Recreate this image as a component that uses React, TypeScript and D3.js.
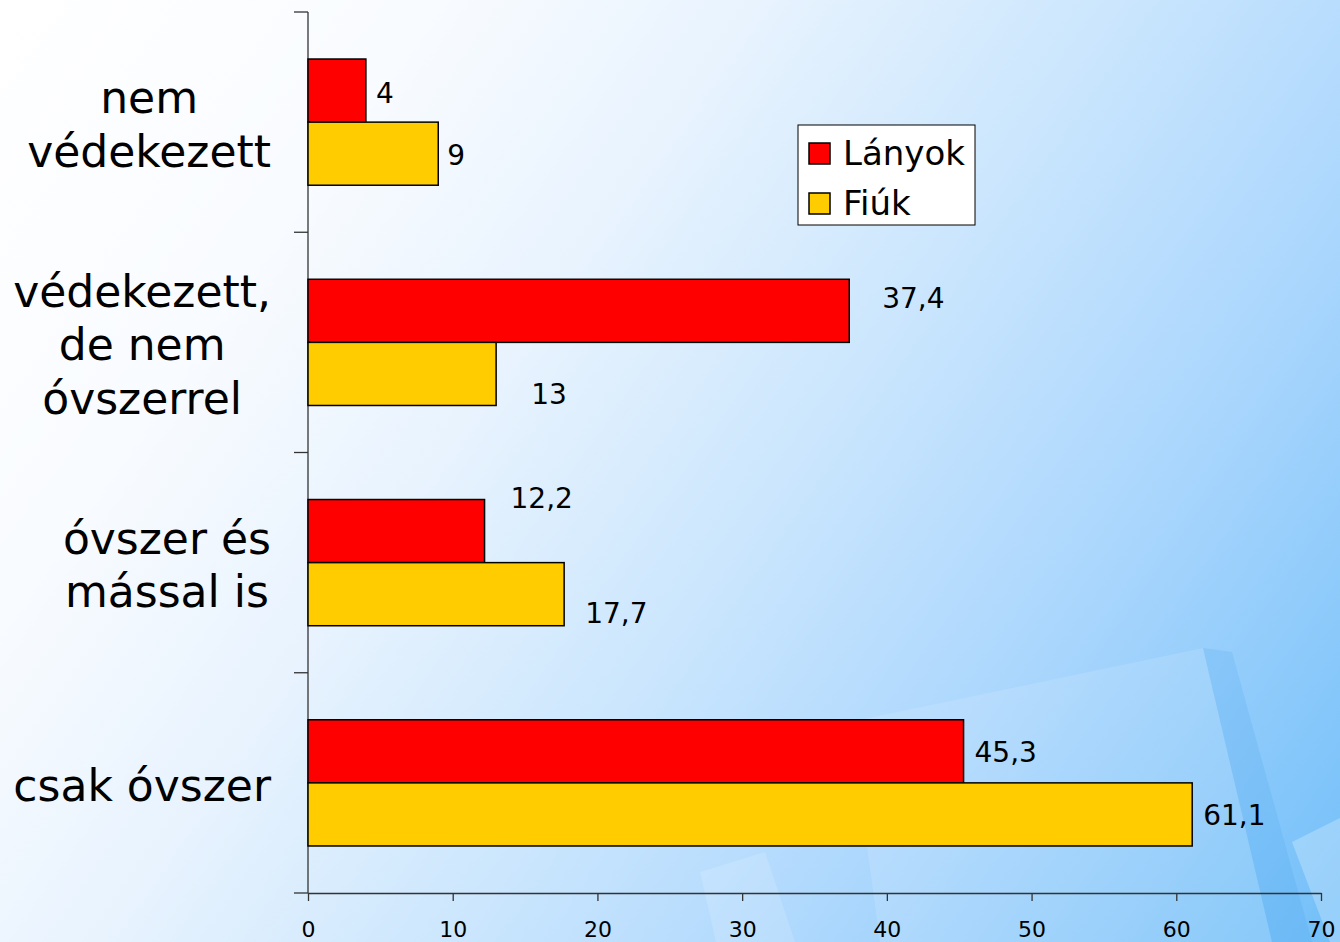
import React, { useEffect, useRef } from 'react';
import * as d3 from 'd3';

// chart values
const categoryLines = [
  ['nem', 'védekezett'],
  ['védekezett,', 'de nem', 'óvszerrel'],
  ['óvszer és', 'mással is'],
  ['csak óvszer']
];
const categoryKeys = ['nem', 'vedekezett', 'massal', 'csak'];
const seriesNames = ['Lányok', 'Fiúk'];
const lanyokValues = [4, 37.4, 12.2, 45.3];
const fiukValues = [9, 13, 17.7, 61.1];
const xTicks = [0, 10, 20, 30, 40, 50, 60, 70];

// manual nudges of the value labels (as in the original slide)
const lanyokNudge = [[10, 2], [33, -13], [26, -33], [11, 1]];
const fiukNudge = [[9, 1], [35, 20], [21, 19], [11, 1]];

const colors = ['#FF0000', '#FFCC00'];

const App = () => {
  const svgRef = useRef(null);

  useEffect(() => {
    const width = 1340;
    const height = 942;
    const margin = { top: 12, right: 19, bottom: 49, left: 308 };
    const font = '"DejaVu Sans", Verdana, sans-serif';

    d3.select(svgRef.current).selectAll('*').remove();

    const svg = d3.select(svgRef.current)
      .attr('width', width)
      .attr('height', height)
      .style('font-family', font);

    // background
    const defs = svg.append('defs');
    const grad = defs.append('linearGradient')
      .attr('id', 'bg')
      .attr('gradientUnits', 'userSpaceOnUse')
      .attr('x1', 0).attr('y1', 0)
      .attr('x2', width).attr('y2', height);
    [
      [0, '#ffffff'],
      [0.22, '#f8fbff'],
      [0.38, '#e8f3fe'],
      [0.56, '#cbe6fd'],
      [0.74, '#acd7fd'],
      [1, '#72bff9']
    ].forEach(([o, c]) => grad.append('stop').attr('offset', o).attr('stop-color', c));

    svg.append('rect').attr('width', width).attr('height', height).attr('fill', 'url(#bg)');

    const deco = svg.append('g');
    deco.append('polygon')
      .attr('points', '1203,648 1232,652 1312,942 1272,942')
      .attr('fill', '#2f95ec').attr('opacity', 0.14);
    deco.append('polygon')
      .attr('points', '850,722 1203,648 1272,942 880,942')
      .attr('fill', '#ffffff').attr('opacity', 0.12);
    deco.append('polygon')
      .attr('points', '1292,842 1340,818 1340,942 1330,942')
      .attr('fill', '#ffffff').attr('opacity', 0.25);
    deco.append('polygon')
      .attr('points', '700,872 765,852 795,942 716,942')
      .attr('fill', '#ffffff').attr('opacity', 0.15);

    // scales
    const xScale = d3.scaleLinear()
      .domain([0, 70])
      .range([margin.left, width - margin.right]);

    const yScale = d3.scaleBand()
      .domain(categoryKeys)
      .range([margin.top, height - margin.bottom])
      .paddingInner(0.427)
      .paddingOuter(0.2135);

    const sub = d3.scaleBand()
      .domain(seriesNames)
      .range([0, yScale.bandwidth()]);

    const step = yScale.step();
    const axisColor = '#333333';

    // y axis line and ticks between categories
    svg.append('line')
      .attr('x1', margin.left).attr('x2', margin.left)
      .attr('y1', margin.top).attr('y2', height - margin.bottom)
      .attr('stroke', axisColor).attr('stroke-width', 1.3);

    d3.range(categoryKeys.length + 1).forEach(i => {
      const y = margin.top + i * step;
      svg.append('line')
        .attr('x1', margin.left - 14).attr('x2', margin.left)
        .attr('y1', y).attr('y2', y)
        .attr('stroke', axisColor).attr('stroke-width', 1.3);
    });

    // x axis
    const xAxis = svg.append('g')
      .attr('transform', `translate(0,${height - margin.bottom})`)
      .call(d3.axisBottom(xScale).tickValues(xTicks).tickSize(8).tickSizeOuter(0).tickPadding(20));
    xAxis.attr('font-size', null).attr('font-family', null);
    xAxis.select('.domain').attr('stroke', axisColor).attr('stroke-width', 1.3);
    xAxis.selectAll('.tick line').attr('stroke', axisColor).attr('stroke-width', 1.3);
    xAxis.selectAll('.tick text')
      .style('font-family', font)
      .style('font-size', '22px')
      .attr('fill', '#000');

    // bars
    const series = [lanyokValues, fiukValues];
    const nudges = [lanyokNudge, fiukNudge];
    series.forEach((values, s) => {
      values.forEach((v, i) => {
        const y0 = yScale(categoryKeys[i])! + sub(seriesNames[s])!;
        svg.append('rect')
          .attr('x', xScale(0))
          .attr('y', y0)
          .attr('width', xScale(v) - xScale(0))
          .attr('height', sub.bandwidth())
          .attr('fill', colors[s])
          .attr('stroke', '#000')
          .attr('stroke-width', 1.5);
      });
    });

    // value labels
    series.forEach((values, s) => {
      values.forEach((v, i) => {
        const yc = yScale(categoryKeys[i])! + sub(seriesNames[s])! + sub.bandwidth() / 2;
        const [dx, dy] = nudges[s][i];
        svg.append('text')
          .attr('x', xScale(v) + dx)
          .attr('y', yc + dy + 10)
          .attr('font-size', 28)
          .attr('fill', '#000')
          .text(String(v).replace('.', ','));
      });
    });

    // category labels, lines centred, block right-aligned
    const blockRight = 271;
    const lineH = 53.5;
    categoryLines.forEach((lines, i) => {
      const yc = yScale(categoryKeys[i])! + yScale.bandwidth() / 2;
      const g = svg.append('g');
      const texts = lines.map((line, j) =>
        g.append('text')
          .attr('y', yc + (j - (lines.length - 1) / 2) * lineH + 18)
          .attr('font-size', 44)
          .attr('fill', '#000')
          .attr('text-anchor', 'middle')
          .text(line)
      );
      const maxW = d3.max(texts, t => (t.node() as SVGTextElement).getComputedTextLength()) || 0;
      texts.forEach(t => t.attr('x', blockRight - maxW / 2));
    });

    // legend
    const legend = svg.append('g').attr('transform', 'translate(798,125)');
    legend.append('rect')
      .attr('width', 177).attr('height', 100)
      .attr('fill', '#fff').attr('stroke', '#000').attr('stroke-width', 1);
    seriesNames.forEach((name, i) => {
      const row = legend.append('g').attr('transform', `translate(11,${18 + i * 50})`);
      row.append('rect')
        .attr('width', 21).attr('height', 21)
        .attr('fill', colors[i]).attr('stroke', '#000').attr('stroke-width', 1.5);
      row.append('text')
        .attr('x', 34).attr('y', 22)
        .attr('font-size', 34)
        .attr('fill', '#000')
        .text(name);
    });
  }, []);

  return (
    <div style={{ position: 'absolute', left: 0, top: 0 }}>
      <svg ref={svgRef} style={{ display: 'block' }}></svg>
    </div>
  );
};

export default App;
